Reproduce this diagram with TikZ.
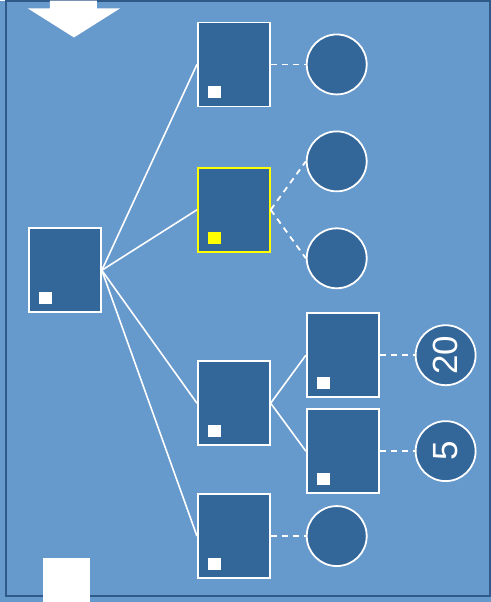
\documentclass[tikz,border=0pt]{standalone}
\usepackage{fontspec}
\setsansfont{Liberation Sans}
\usetikzlibrary{positioning}
\definecolor{treeBack}{HTML}{6699CC}
\definecolor{treeNode}{HTML}{336699}
\definecolor{treeFrame}{HTML}{2F5A88}
\definecolor{treeMark}{HTML}{FFFF00}

\begin{document}
\begin{tikzpicture}[x=1pt,y=-1pt,line cap=butt,line join=miter]
\path[fill=treeBack] (0,0) rectangle (491,602);
\draw[treeFrame,line width=2pt] (6,0.5) rectangle (490,596);
\tikzset{box/.style={draw=white,fill=treeNode,line width=1.8pt,minimum width=72pt,minimum height=84pt,inner sep=0pt},markbox/.style={fill=white,minimum width=13pt,minimum height=12pt,inner sep=0pt},leaf/.style={circle,draw=white,fill=treeNode,line width=1.8pt,minimum size=60pt,inner sep=0pt,text=white,font=\sffamily\fontsize{35}{35}\selectfont},edge/.style={draw=white,line width=1.6pt},link/.style={draw=white,line width=1.8pt,dash pattern=on 6pt off 5pt}}
% arrow and lower tab
\path[fill=white] (50,0) -- (97,0) -- (97,8) -- (120,8) -- (74,37) -- (28,8) -- (50,8) -- cycle;
\path[fill=white] (43,558) rectangle (90,602);
% squares
\node[box] (root) at (65,270) {};
\node[box] (na) at (234,64) {};
\node[box,draw=treeMark] (nb) at (234,209.5) {};
\node[box] (nc) at (234,403) {};
\node[box] (nd) at (234,536) {};
\node[box] (nca) at (343,355) {};
\node[box] (ncb) at (343,451) {};
\foreach \n in {root,na,nc,nd,nca,ncb} \node[markbox] at ([xshift=17.5pt,yshift=15pt]\n.south west) {};
\node[markbox,fill=treeMark] at ([xshift=17.5pt,yshift=15pt]nb.south west) {};
% circles
\node[leaf] (la) at (337,64) {}; \node[leaf] (lb) at (337,161) {}; \node[leaf] (lc) at (337,258) {};
\node[leaf] (ld) at (337,536) {};
\node[leaf] (le) at (446,355) {\rotatebox{90}{20}}; \node[leaf] (lf) at (446,451) {\rotatebox{90}{5}};
% connectors
\foreach \n in {na,nb,nc,nd} \draw[edge] (root.east) -- (\n.west);
\draw[edge] (nc.east) -- (nca.west); \draw[edge] (nc.east) -- (ncb.west);
\draw[link] (na.east) -- (la.west); \draw[link] (nb.east) -- (lb.west); \draw[link] (nb.east) -- (lc.west);
\draw[link] (nd.east) -- (ld.west); \draw[link] (nca.east) -- (le.west); \draw[link] (ncb.east) -- (lf.west);
\end{tikzpicture}
\end{document}
